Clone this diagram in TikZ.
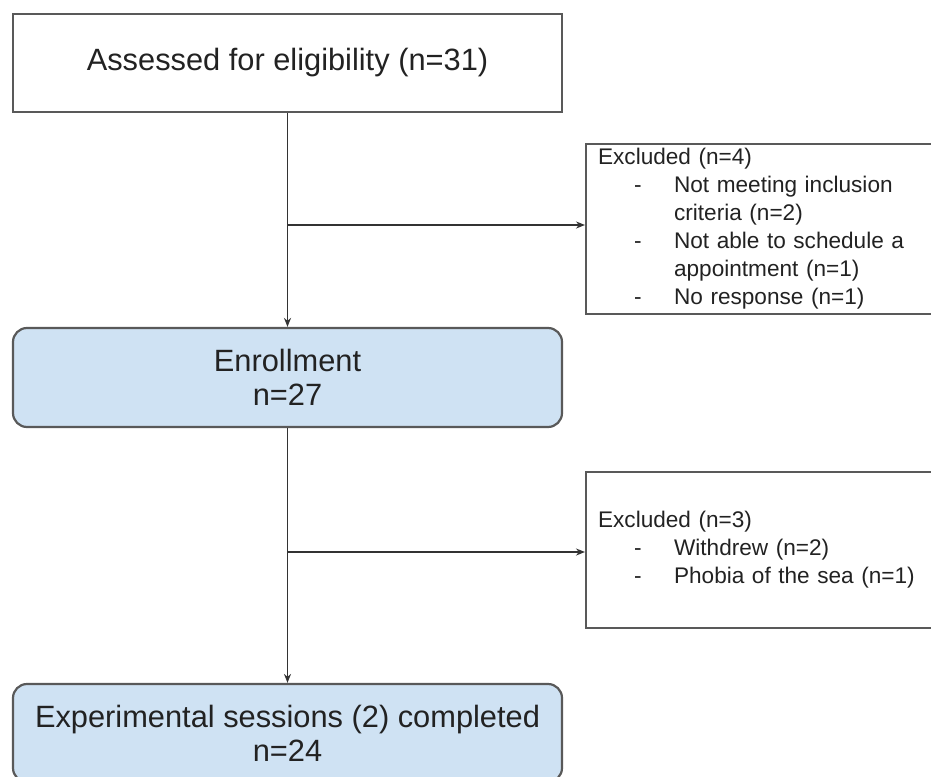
\documentclass[tikz,border=0pt]{standalone}
\usepackage{fontspec}
\setmainfont{Liberation Sans}
\usepackage{xcolor}
\usetikzlibrary{arrows.meta, positioning}

\definecolor{boxblue}{HTML}{CFE2F3}
\definecolor{edgegray}{HTML}{595959}
\definecolor{inkgray}{HTML}{222222}

\newcommand{\dashitem}[1]{\makebox[76pt][l]{\hspace*{36pt}-}#1}
\newcommand{\contitem}[1]{\hspace*{76pt}#1}

\begin{document}
\begin{tikzpicture}[x=1pt, y=-1pt, >={Stealth[length=9pt,width=7pt]},
  mainbox/.style={draw=edgegray, line width=2.2pt, minimum width=549pt,
    align=center, text=inkgray, font=\fontsize{30.8}{34}\selectfont, inner sep=0pt},
  bluebox/.style={mainbox, fill=boxblue, rounded corners=14pt},
  exclbox/.style={draw=edgegray, line width=2.2pt, anchor=west, text=inkgray,
    text width=324pt, inner xsep=12pt, inner ysep=0pt, align=left,
    font=\fontsize{22.6}{28}\selectfont},
  flow/.style={->, draw=black!80, line width=1.8pt}]

	% Frame
	\useasboundingbox (0,0) rectangle (931,776);
	
	% Main boxes
	\node[mainbox, minimum height=98pt] (assess) at (287.5,63) {Assessed for eligibility (n=31)};
	\node[bluebox, minimum height=99pt] (enrol) at (287.5,377.5) {Enrollment\\n=27};
	\node[bluebox, minimum height=98pt] (done) at (287.5,733) {Experimental sessions (2) completed\\n=24};
	
	% Exclusion boxes
	\node[exclbox, minimum height=170pt] (excl1) at (585,229) {Excluded (n=4)\\
		\dashitem{Not meeting inclusion}\\
		\contitem{criteria (n=2)}\\
		\dashitem{Not able to schedule a}\\
		\contitem{appointment (n=1)}\\
		\dashitem{No response (n=1)}};
	\node[exclbox, minimum height=156pt] (excl2) at (585,550) {Excluded (n=3)\\
		\dashitem{Withdrew (n=2)}\\
		\dashitem{Phobia of the sea (n=1)}};
	
	% Branch points
	\coordinate (split1) at (287.5,225);
	\coordinate (split2) at (287.5,552);
	
	% Connectors
	\draw[flow] (assess.south) -- (enrol.north);
	\draw[flow] (enrol.south) -- (done.north);
	\draw[flow] (split1) -- (split1 -| excl1.west);
	\draw[flow] (split2) -- (split2 -| excl2.west);
\end{tikzpicture}
\end{document}
